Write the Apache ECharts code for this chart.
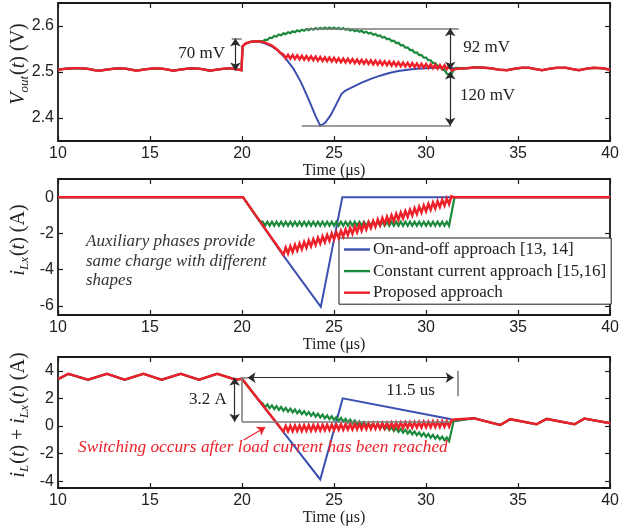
<!DOCTYPE html>
<html>
<head>
<meta charset="utf-8">
<script src="https://cdn.jsdelivr.net/npm/echarts@6/dist/echarts.min.js"></script>
<style>
  html, body { margin: 0; padding: 0; background: #fff; }
  #c { width: 622px; height: 531px; }
</style>
</head>
<body>
<div id="c"></div>
<script>
// ---------------- data ----------------
const seriesNames = ['On-and-off approach [13, 14]', 'Constant current approach [15,16]', 'Proposed approach'];
const timeTicks = [10, 15, 20, 25, 30, 35, 40];
const vTicks = [2.4, 2.5, 2.6];
const ixTicks = [-6, -4, -2, 0];
const isumTicks = [-4, -2, 0, 2, 4];

// switching instants of the ripple during the transient (us)
const zigT = [22.25,22.375,22.5,22.625,22.75,22.875,23,23.125,23.25,23.375,23.5,23.625,23.75,23.875,24,24.125,
  24.25,24.375,24.5,24.625,24.75,24.875,25,25.125,25.25,25.375,25.5,25.625,25.75,25.875,26,26.125,26.25,26.375,
  26.5,26.625,26.75,26.875,27,27.125,27.25,27.375,27.5,27.625,27.75,27.875,28,28.125,28.25,28.375,28.5,28.625,
  28.75,28.875,29,29.125,29.25,29.375,29.5,29.625,29.75,29.875,30,30.125,30.25,30.375,30.5,30.625,30.75,30.875,
  31,31.125,31.25];
const greenT = [21.125,21.25,21.375,21.5,21.625,21.75,21.875,22,22.125].concat(zigT);

// ---- Vout(t) [V] ----
const vPre = [[10,2.505],[10.4,2.507],[10.8,2.508],[11.2,2.508],[11.6,2.507],[12.0,2.504],[12.25,2.503],[12.6,2.505],
  [13.0,2.507],[13.3,2.508],[13.7,2.507],[14.0,2.505],[14.25,2.503],[14.6,2.505],[15.0,2.507],[15.3,2.508],[15.7,2.507],
  [16.0,2.505],[16.25,2.503],[16.6,2.505],[17.0,2.507],[17.3,2.508],[17.7,2.507],[18.0,2.505],[18.25,2.503],[18.6,2.505],
  [19.0,2.507],[19.3,2.508],[19.7,2.506],[19.97,2.504],[20.0,2.503],[20.03,2.556],[20.2,2.562],[20.5,2.566],[20.8,2.567]];
const vPost = [[31.7,2.507],[32.2,2.508],[32.6,2.510],[33.0,2.510],[33.5,2.508],[34.0,2.505],[34.4,2.504],[34.8,2.507],
  [35.2,2.509],[35.6,2.509],[36.0,2.506],[36.3,2.504],[36.7,2.507],[37.1,2.509],[37.6,2.509],[38.0,2.506],[38.3,2.504],
  [38.7,2.507],[39.1,2.509],[39.6,2.508],[40.0,2.505]];
const vBlueMid = [[21.2,2.563],[21.6,2.556],[22.0,2.545],[22.4,2.528],[22.8,2.507],[23.2,2.478],[23.6,2.442],[24.0,2.404],
  [24.25,2.383],[24.5,2.389],[24.8,2.405],[25.1,2.428],[25.4,2.452],[25.6,2.459],[26.0,2.467],[26.5,2.477],[27.0,2.485],
  [27.5,2.492],[28.0,2.498],[28.5,2.502],[29.0,2.505],[29.5,2.507],[30.0,2.508],[30.5,2.509],[31.0,2.509],[31.3,2.509]];
const vGreenHead = [[21.0,2.567]];
const vGreenZig = [2.5665,2.5704,2.5696,2.5748,2.5738,2.5784,2.5769,2.5815,2.5798,2.5840,
  2.5823,2.5865,2.5845,2.5885,2.5865,2.5905,2.5883,2.5920,2.5898,2.5935,
  2.5910,2.5945,2.5920,2.5955,2.5928,2.5960,2.5933,2.5965,2.5935,2.5965,
  2.5935,2.5965,2.5933,2.5960,2.5928,2.5955,2.5918,2.5940,2.5903,2.5925,
  2.5888,2.5910,2.5873,2.5895,2.5855,2.5875,2.5835,2.5855,2.5810,2.5825,
  2.5780,2.5795,2.5748,2.5760,2.5713,2.5725,2.5673,2.5680,2.5628,2.5635,
  2.5580,2.5585,2.5530,2.5535,2.5478,2.5480,2.5423,2.5425,2.5368,2.5370,
  2.5313,2.5315,2.5255,2.5255,2.5195,2.5195,2.5132,2.5128,2.5054,2.5042,
  2.4965,2.4945];
const vGreenTail = [[31.32,2.490],[31.45,2.501],[31.6,2.509]];
const vRedHead = [[21.2,2.565],[21.6,2.558],[21.9,2.549],[22.1,2.541]];
const vRedZig = [2.5380,2.5297,2.5373,2.5290,2.5367,2.5283,2.5360,2.5276,2.5353,2.5270,
  2.5346,2.5263,2.5340,2.5256,2.5333,2.5249,2.5326,2.5243,2.5319,2.5236,
  2.5313,2.5229,2.5306,2.5222,2.5299,2.5216,2.5292,2.5209,2.5286,2.5202,
  2.5279,2.5195,2.5272,2.5189,2.5265,2.5182,2.5259,2.5175,2.5252,2.5168,
  2.5245,2.5162,2.5238,2.5155,2.5232,2.5148,2.5225,2.5141,2.5218,2.5135,
  2.5211,2.5128,2.5205,2.5121,2.5198,2.5114,2.5191,2.5108,2.5184,2.5101,
  2.5178,2.5094,2.5171,2.5087,2.5164,2.5081,2.5157,2.5074,2.5151,2.5067,
  2.5144,2.5060,2.5137];
const vRedTail = [[31.4,2.503],[31.55,2.506]];

// ---- iLx(t) [A] ----
const ixPre = [[10,0],[20.05,0]];
const ixBlueMid = [[22.25,-3.23],[24.28,-6.05],[25.45,0],[40,0]];
const ixGreenHead = [[20.95,-1.32]];
const ixGreenZig = [-1.36,-1.58,-1.36,-1.58,-1.36,-1.58,-1.36,-1.58,-1.36,-1.58,
  -1.36,-1.58,-1.36,-1.58,-1.36,-1.58,-1.36,-1.58,-1.36,-1.58,
  -1.36,-1.58,-1.36,-1.58,-1.36,-1.58,-1.36,-1.58,-1.36,-1.58,
  -1.36,-1.58,-1.36,-1.58,-1.36,-1.58,-1.36,-1.58,-1.36,-1.58,
  -1.36,-1.58,-1.36,-1.58,-1.36,-1.58,-1.36,-1.58,-1.36,-1.58,
  -1.36,-1.58,-1.36,-1.58,-1.36,-1.58,-1.36,-1.58,-1.36,-1.58,
  -1.36,-1.58,-1.36,-1.58,-1.36,-1.58,-1.36,-1.58,-1.36,-1.58,
  -1.36,-1.58,-1.36,-1.58,-1.36,-1.58,-1.36,-1.58,-1.36,-1.58,
  -1.36,-1.58];
const ixGreenTail = [[31.55,0],[40,0]];
const ixRedZig = [-3.180,-2.781,-3.103,-2.704,-3.025,-2.626,-2.948,-2.549,-2.870,-2.471,
  -2.793,-2.394,-2.715,-2.316,-2.638,-2.239,-2.560,-2.161,-2.483,-2.084,
  -2.405,-2.006,-2.328,-1.929,-2.250,-1.851,-2.173,-1.774,-2.095,-1.696,
  -2.018,-1.619,-1.940,-1.541,-1.863,-1.464,-1.785,-1.386,-1.708,-1.309,
  -1.630,-1.231,-1.553,-1.154,-1.475,-1.076,-1.398,-0.999,-1.320,-0.921,
  -1.243,-0.844,-1.165,-0.766,-1.088,-0.689,-1.010,-0.611,-0.933,-0.534,
  -0.855,-0.456,-0.778,-0.379,-0.700,-0.301,-0.623,-0.224,-0.545,-0.146,
  -0.468,-0.069,-0.390];
const ixRedTail = [[31.38,0.05],[31.5,0],[40,0]];

// ---- iL(t) + iLx(t) [A] ----
const isPre = [[10,3.39],[10.56,3.78],[11.63,3.35],[12.66,3.78],[13.62,3.35],[14.64,3.78],[15.63,3.35],[16.67,3.78],
  [17.66,3.35],[18.65,3.78],[19.66,3.36],[20.0,3.42]];
const isPost = [[31.5,0.35],[32.59,0.56],[34.03,0.07],[34.57,0.49],[36.0,0.12],[36.55,0.51],[38.07,0.12],[38.6,0.53],[40.0,0.2]];
const isBlueMid = [[22.25,-0.45],[24.25,-3.88],[25.47,2.0],[31.3,0.5]];
const isGreenHead = [[20.95,1.79]];
const isGreenZig = [1.620,1.349,1.559,1.288,1.498,1.227,1.436,1.166,1.375,1.104,
  1.314,1.043,1.253,0.982,1.191,0.921,1.130,0.859,1.069,0.798,
  1.008,0.737,0.946,0.676,0.885,0.614,0.824,0.553,0.763,0.492,
  0.701,0.431,0.640,0.369,0.579,0.308,0.518,0.247,0.456,0.186,
  0.395,0.124,0.334,0.063,0.273,0.002,0.211,-0.059,0.150,-0.121,
  0.089,-0.182,0.028,-0.243,-0.034,-0.304,-0.095,-0.366,-0.156,-0.427,
  -0.218,-0.488,-0.279,-0.549,-0.340,-0.611,-0.401,-0.672,-0.463,-0.733,
  -0.524,-0.794,-0.585,-0.856,-0.646,-0.917,-0.708,-0.978,-0.769,-1.039,
  -0.830,-1.101];
const isGreenTail = [[31.3,-1.15]];
const isRedZig = [-0.400,0.005,-0.390,0.015,-0.381,0.024,-0.371,0.034,-0.361,0.044,
  -0.351,0.054,-0.342,0.063,-0.332,0.073,-0.322,0.083,-0.313,0.092,
  -0.303,0.102,-0.293,0.112,-0.283,0.122,-0.274,0.131,-0.264,0.141,
  -0.254,0.151,-0.245,0.160,-0.235,0.170,-0.225,0.180,-0.215,0.190,
  -0.206,0.199,-0.196,0.209,-0.186,0.219,-0.176,0.228,-0.167,0.238,
  -0.157,0.248,-0.147,0.258,-0.138,0.267,-0.128,0.277,-0.118,0.287,
  -0.108,0.297,-0.099,0.306,-0.089,0.316,-0.079,0.326,-0.070,0.335,
  -0.060,0.345,-0.050];
const isRedTail = [[31.4,0.45]];

// guide lines and dimension arrows, in data units: [[t1, y1], [t2, y2]]
const vGuideLines = [[[23.45,2.595],[31.78,2.595]], [[23.24,2.383],[31.33,2.383]], [[19.44,2.573],[19.98,2.573]]];
const vArrows = [[[19.64,2.573],[19.64,2.503]], [[31.31,2.595],[31.31,2.505]], [[31.31,2.501],[31.31,2.383]]];
const sumGuideLines = [[[20,3.5],[20.3,3.5]], [[20,3.5],[20,0.3]], [[20,0.3],[31.3,0.3]], [[31.7,4.0],[31.7,2.15]]];
const sumArrows = [[[20.3,3.5],[31.5,3.5]], [[19.6,3.5],[19.6,0.3]]];
const sumPointer = [[[20.09,-1.02],[21.26,-0.09]]];

// ---------------- layout / style ----------------
const FONT_SANS = '"Liberation Sans", Arial, sans-serif';
const FONT_SERIF = '"Liberation Serif", "Times New Roman", serif';
const COLORS = ['#3a4fb0', '#1b8a3c', '#ee2029'];
const WIDTHS = [2, 2.2, 2.5];
const INK = '#1a1a1a';

const panels = [
  { top: 3,   height: 138, min: 2.35, max: 2.65, ticks: vTicks },
  { top: 179, height: 136, min: -6.5, max: 1,    ticks: ixTicks },
  { top: 357, height: 131, min: -4.5, max: 5,    ticks: isumTicks }
];

const frameLine = { show: true, onZero: false, lineStyle: { color: INK, width: 1.8 } };
const innerTick = { inside: true, length: 5, lineStyle: { color: INK, width: 1.2 } };

const grid = panels.map(p => ({ left: 58, right: 8, top: p.top, height: p.height }));

const xAxis = [];
const yAxis = [];
panels.forEach((p, i) => {
  xAxis.push({
    type: 'value', gridIndex: i, position: 'bottom', min: 10, max: 40, interval: 5,
    axisLine: frameLine, axisTick: innerTick, splitLine: { show: false },
    axisLabel: { margin: 5, fontFamily: FONT_SANS, fontSize: 16, color: '#222' },
    name: 'Time (\u03bcs)', nameLocation: 'middle', nameGap: 21,
    nameTextStyle: { fontFamily: FONT_SERIF, fontSize: 16, color: '#222' }
  });
  xAxis.push({
    type: 'value', gridIndex: i, position: 'top', min: 10, max: 40, interval: 5,
    axisLine: frameLine, axisTick: innerTick, splitLine: { show: false }, axisLabel: { show: false }
  });
  yAxis.push({
    type: 'value', gridIndex: i, position: 'left', min: p.min, max: p.max,
    axisLine: frameLine, splitLine: { show: false },
    axisTick: Object.assign({ customValues: p.ticks }, innerTick),
    axisLabel: { customValues: p.ticks, margin: 4, fontFamily: FONT_SANS, fontSize: 16, color: '#222',
                 formatter: v => String(Math.round(v * 10) / 10) }
  });
  yAxis.push({
    type: 'value', gridIndex: i, position: 'right', min: p.min, max: p.max,
    axisLine: frameLine, splitLine: { show: false },
    axisTick: Object.assign({ customValues: p.ticks }, innerTick),
    axisLabel: { show: false }
  });
});

const zip = (ts, vs) => ts.map((t, k) => [t, vs[k]]);

function trace(panel, k, data) {
  return {
    type: 'line', name: seriesNames[k], xAxisIndex: 2 * panel, yAxisIndex: 2 * panel,
    data: data, symbol: 'none', showSymbol: false, silent: true, z: 2 + k,
    lineStyle: { color: COLORS[k], width: WIDTHS[k], join: 'miter' },
    itemStyle: { color: COLORS[k] }
  };
}

function seg(s, sym) {
  return [{ coord: s[0], symbol: sym }, { coord: s[1], symbol: sym }];
}

function guides(panel, lines, arrows, pointers) {
  const data = lines.map(s => seg(s, 'none'))
    .concat(arrows.map(s => {
      const d = seg(s, 'arrow');
      d[0].lineStyle = { color: '#2a2a2a', width: 1.2 };
      return d;
    }))
    .concat((pointers || []).map(s => {
      const d = [{ coord: s[0], symbol: 'none' }, { coord: s[1], symbol: 'arrow' }];
      d[0].lineStyle = { color: COLORS[2], width: 1.1 };
      return d;
    }));
  return {
    type: 'line', xAxisIndex: 2 * panel, yAxisIndex: 2 * panel, data: [], silent: true, z: 6,
    markLine: {
      silent: true, animation: false, symbolSize: 8, precision: 4,
      label: { show: false }, emphasis: { disabled: true },
      lineStyle: { type: 'solid', color: '#7a7a7a', width: 1.5 },
      data: data
    }
  };
}

const series = [
  trace(0, 0, vPre.concat(vBlueMid, vPost)),
  trace(0, 1, vPre.concat(vGreenHead, zip(greenT, vGreenZig), vGreenTail, vPost)),
  trace(0, 2, vPre.concat(vRedHead, zip(zigT, vRedZig), vRedTail, vPost)),
  guides(0, vGuideLines, vArrows),

  trace(1, 0, ixPre.concat(ixBlueMid)),
  trace(1, 1, ixPre.concat(ixGreenHead, zip(greenT, ixGreenZig), ixGreenTail)),
  trace(1, 2, ixPre.concat(zip(zigT, ixRedZig), ixRedTail)),

  trace(2, 0, isPre.concat(isBlueMid, isPost)),
  trace(2, 1, isPre.concat(isGreenHead, zip(greenT, isGreenZig), isGreenTail, isPost)),
  trace(2, 2, isPre.concat(zip(zigT, isRedZig), isRedTail, isPost)),
  guides(2, sumGuideLines, sumArrows, sumPointer)
];

// axis titles with italic symbols and subscripts
const richName = {
  i: { fontFamily: FONT_SERIF, fontStyle: 'italic', fontSize: 20, fill: '#222' },
  r: { fontFamily: FONT_SERIF, fontSize: 20, fill: '#222' },
  s: { fontFamily: FONT_SERIF, fontStyle: 'italic', fontSize: 13, fill: '#222', padding: [11, 1, 0, 0] }
};
function axisTitle(x, y, text) {
  return { type: 'text', x: x, y: y, rotation: Math.PI / 2, z: 10,
           style: { text: text, rich: richName, align: 'center', verticalAlign: 'middle' } };
}
function note(x, y, text, extra) {
  return { type: 'text', x: x, y: y, z: 10,
           style: Object.assign({ text: text, font: '17px ' + FONT_SERIF, fill: '#222',
                                  align: 'center', verticalAlign: 'middle' }, extra || {}) };
}

const graphic = [
  axisTitle(19, 64, '{i|V}{s|out}{r|(}{i|t}{r|) (V)}'),
  axisTitle(19, 240, '{i|i}{s|Lx}{r|(}{i|t}{r|) (A)}'),
  axisTitle(19, 415, '{i|i}{s|L}{r|(}{i|t}{r|) + }{i|i}{s|Lx}{r|(}{i|t}{r|) (A)}'),
  note(201.7, 53.3, '70 mV'),
  note(486.7, 47.7, '92 mV'),
  note(487.5, 95.7, '120 mV'),
  note(208, 400, '3.2 A'),
  note(410.5, 390.7, '11.5 us'),
  note(86, 232, 'Auxiliary phases provide\nsame charge with different\nshapes',
       { font: 'italic 17px ' + FONT_SERIF, fill: '#333', align: 'left', verticalAlign: 'top', lineHeight: 19.5 }),
  note(78, 447, 'Switching occurs after load current has been reached',
       { font: 'italic 17.3px ' + FONT_SERIF, fill: COLORS[2], align: 'left' })
];

const option = {
  animation: false,
  backgroundColor: '#fff',
  grid: grid,
  xAxis: xAxis,
  yAxis: yAxis,
  legend: {
    data: seriesNames, orient: 'vertical', left: 339, top: 238,
    itemWidth: 26, itemHeight: 14, itemGap: 4.6, padding: [3, 5, 3, 5],
    icon: 'path://M0 0 H26 V2.4 H0 Z',
    borderColor: INK, borderWidth: 1, borderRadius: 0, backgroundColor: '#fff',
    selectedMode: false,
    textStyle: { fontFamily: FONT_SERIF, fontSize: 17, lineHeight: 17, color: '#222', padding: [0, 0, 0, -2] }
  },
  series: series,
  graphic: graphic
};

const chart = echarts.init(document.getElementById('c'));
chart.setOption(option);
</script>
</body>
</html>
